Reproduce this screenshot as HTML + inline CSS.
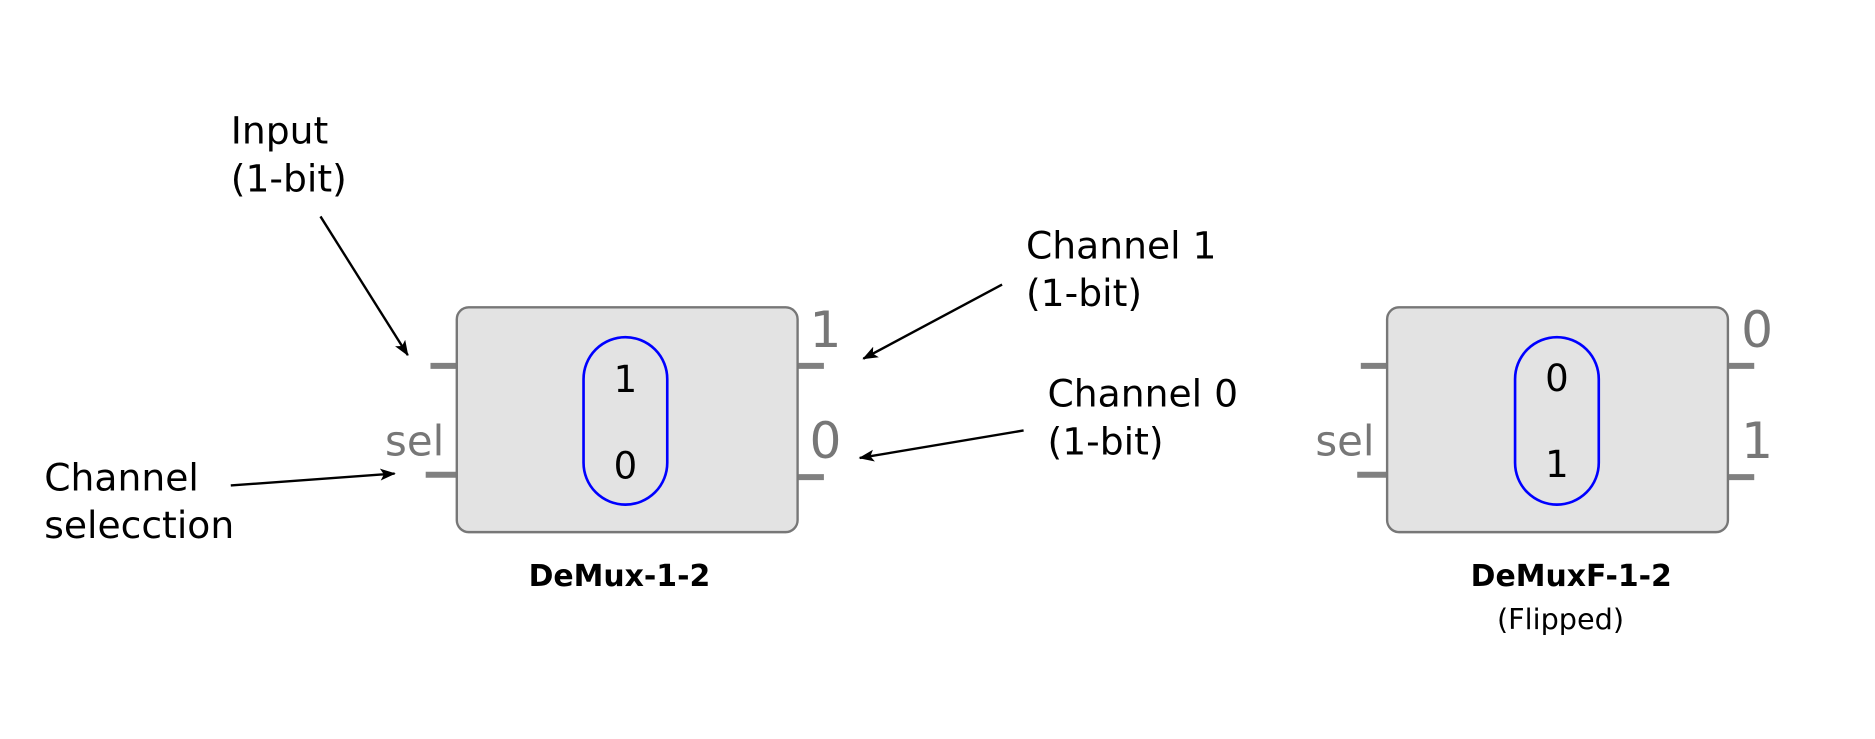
<!DOCTYPE html>
<html><head><meta charset="utf-8"><style>html,body{margin:0;padding:0;background:#fff}svg{display:block}</style></head>
<body>
<svg width="1875" height="739" viewBox="0 0 1568 618" xmlns="http://www.w3.org/2000/svg" font-family="DejaVu Sans, Liberation Sans, sans-serif">
<defs>
<marker id="a" markerWidth="14" markerHeight="10" refX="12" refY="5" orient="auto" markerUnits="userSpaceOnUse"><path d="M0,0 L13,5 L0,10 L3,5 Z" fill="#000"/></marker>
</defs>
<g stroke="#808080" stroke-width="5">
<line x1="360" y1="306" x2="382" y2="306"/><line x1="356" y1="397" x2="382" y2="397"/>
<line x1="667" y1="306" x2="689" y2="306"/><line x1="667" y1="399" x2="689" y2="399"/>
<line x1="1138" y1="306" x2="1160" y2="306"/><line x1="1135" y1="397" x2="1160" y2="397"/>
<line x1="1445" y1="306" x2="1467" y2="306"/><line x1="1445" y1="399" x2="1467" y2="399"/>
</g>
<rect x="382" y="257" width="285" height="188" rx="10" fill="#e3e3e3" stroke="#777" stroke-width="2"/>
<rect x="488" y="282" width="70" height="140" rx="35" fill="none" stroke="#0000ff" stroke-width="2.2"/>
<rect x="1160" y="257" width="285" height="188" rx="10" fill="#e3e3e3" stroke="#777" stroke-width="2"/>
<rect x="1267" y="282" width="70" height="140" rx="35" fill="none" stroke="#0000ff" stroke-width="2.2"/>
<g font-size="31" text-anchor="middle" fill="#000">
<text x="523" y="328">1</text><text x="523" y="400">0</text>
<text x="1302" y="327">0</text><text x="1302" y="399">1</text>
</g>
<g font-size="42" fill="#777">
<text x="677" y="290">1</text><text x="677" y="383">0</text>
<text x="1456" y="290">0</text><text x="1456" y="383">1</text>
</g>
<g font-size="35" fill="#777">
<text x="322" y="381">sel</text><text x="1100" y="381">sel</text>
</g>
<g font-size="25" font-weight="bold" text-anchor="middle">
<text x="518" y="490">DeMux-1-2</text><text x="1314" y="490">DeMuxF-1-2</text>
</g>
<text x="1305" y="526" font-size="24" text-anchor="middle">(Flipped)</text>
<g font-size="31.5">
<text x="193" y="120">Input</text><text x="193" y="160">(1-bit)</text>
<text x="858" y="216">Channel 1</text><text x="858" y="256">(1-bit)</text>
<text x="876" y="340">Channel 0</text><text x="876" y="380">(1-bit)</text>
<text x="37" y="410">Channel</text><text x="37" y="450">selecction</text>
</g>
<g stroke="#000" stroke-width="2" marker-end="url(#a)">
<line x1="268" y1="181" x2="341" y2="297"/>
<line x1="838" y1="238" x2="722" y2="300"/>
<line x1="856" y1="360" x2="719" y2="383"/>
<line x1="193" y1="406" x2="330" y2="396"/>
</g>
</svg>
</body></html>
